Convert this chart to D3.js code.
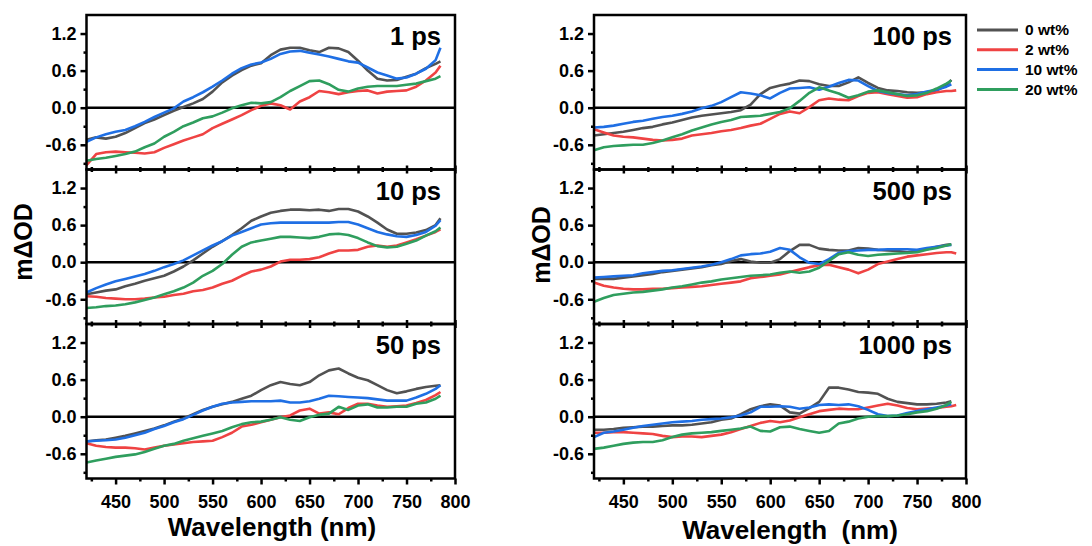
<!DOCTYPE html>
<html>
<head>
<meta charset="utf-8">
<script src="https://cdn.jsdelivr.net/npm/d3@7"></script>
<style>
  body { margin: 0; background: #fff; }
  text { font-family: Arial, "Liberation Sans", sans-serif; font-weight: bold; fill: #000; }
</style>
</head>
<body>
<script>
var svgWidth = 1092;
var svgHeight = 546;

// wavelength grid (nm) shared by every curve; null = no data there
var wavelengths = [420, 430, 440, 450, 460, 470, 480, 490, 500, 510, 520, 530, 540, 550, 560, 570, 580, 590, 600,
  610, 620, 630, 640, 650, 660, 670, 680, 690, 700, 710, 720, 730, 740, 750, 760, 770, 780, 785, 790];

var seriesNames = ["0 wt%", "2 wt%", "10 wt%", "20 wt%"];
var seriesColors = ["#525252", "#ef4343", "#1f6fe4", "#2f9e5e"];
var panelLabels = ["1 ps", "10 ps", "50 ps", "100 ps", "500 ps", "1000 ps"];
var xTicks = [450, 500, 550, 600, 650, 700, 750, 800];
var xMinorTicks = [425, 475, 525, 575, 625, 675, 725, 775];
var yTicks = [-0.6, 0.0, 0.6, 1.2];
var yMinorTicks = [-0.9, -0.3, 0.3, 0.9];

// 1 ps
var ps1_0 = [-0.52,-0.48,-0.50,-0.47,-0.41,-0.33,-0.25,-0.19,-0.12,-0.05,0.01,0.07,0.14,0.26,0.41,0.52,0.61,0.68,0.72,0.85,0.94,0.97,0.97,0.93,0.90,0.97,0.96,0.90,0.76,0.60,0.47,0.44,0.45,0.50,0.55,0.64,0.71,0.75,null];
var ps1_2 = [-0.93,-0.75,-0.72,-0.71,-0.72,-0.73,-0.74,-0.72,-0.65,-0.59,-0.53,-0.48,-0.43,-0.33,-0.26,-0.19,-0.12,-0.04,0.03,0.07,0.04,-0.03,0.10,0.17,0.27,0.25,0.22,0.25,0.27,0.28,0.23,0.26,0.27,0.28,0.34,0.44,0.57,0.68,null];
var ps1_10 = [-0.55,-0.48,-0.43,-0.39,-0.36,-0.30,-0.23,-0.15,-0.08,-0.01,0.10,0.17,0.25,0.34,0.44,0.55,0.64,0.70,0.73,0.79,0.87,0.91,0.92,0.89,0.86,0.83,0.79,0.75,0.73,0.65,0.57,0.52,0.47,0.49,0.55,0.63,0.77,0.97,null];
var ps1_20 = [-0.86,-0.83,-0.81,-0.78,-0.75,-0.71,-0.64,-0.58,-0.47,-0.39,-0.30,-0.24,-0.17,-0.14,-0.08,-0.01,0.04,0.08,0.07,0.09,0.17,0.27,0.35,0.43,0.44,0.38,0.29,0.26,0.31,0.34,0.35,0.35,0.35,0.37,0.39,0.43,0.47,0.51,null];

// 10 ps
var ps10_0 = [-0.52,-0.49,-0.46,-0.44,-0.39,-0.35,-0.30,-0.26,-0.22,-0.15,-0.07,0.03,0.14,0.25,0.34,0.44,0.55,0.67,0.74,0.80,0.83,0.85,0.85,0.84,0.85,0.83,0.86,0.86,0.82,0.74,0.64,0.53,0.46,0.46,0.48,0.52,0.60,0.71,null];
var ps10_2 = [-0.55,-0.56,-0.58,-0.59,-0.60,-0.60,-0.59,-0.57,-0.56,-0.53,-0.51,-0.47,-0.45,-0.41,-0.35,-0.30,-0.22,-0.15,-0.12,-0.07,0.01,0.04,0.04,0.05,0.08,0.14,0.19,0.19,0.20,0.25,0.27,0.25,0.27,0.32,0.37,0.43,0.49,0.53,null];
var ps10_10 = [-0.49,-0.42,-0.36,-0.31,-0.27,-0.23,-0.19,-0.14,-0.08,-0.03,0.03,0.11,0.19,0.27,0.34,0.43,0.49,0.55,0.61,0.63,0.64,0.64,0.64,0.64,0.64,0.64,0.65,0.65,0.61,0.55,0.49,0.45,0.42,0.41,0.44,0.49,0.59,0.68,null];
var ps10_20 = [-0.74,-0.73,-0.71,-0.70,-0.68,-0.65,-0.61,-0.57,-0.52,-0.47,-0.41,-0.33,-0.22,-0.14,-0.03,0.12,0.25,0.32,0.35,0.38,0.41,0.41,0.40,0.39,0.41,0.45,0.46,0.44,0.39,0.32,0.26,0.24,0.25,0.30,0.35,0.43,0.50,0.56,null];

// 50 ps
var ps50_0 = [-0.40,-0.38,-0.37,-0.34,-0.31,-0.27,-0.23,-0.19,-0.14,-0.08,-0.03,0.04,0.11,0.16,0.20,0.24,0.29,0.34,0.43,0.51,0.56,0.53,0.51,0.56,0.67,0.75,0.78,0.70,0.63,0.59,0.51,0.43,0.38,0.41,0.45,0.48,0.50,0.51,null];
var ps50_2 = [-0.43,-0.47,-0.49,-0.50,-0.50,-0.51,-0.53,-0.50,-0.47,-0.45,-0.43,-0.41,-0.40,-0.39,-0.33,-0.26,-0.16,-0.13,-0.09,-0.05,-0.01,0.02,0.10,0.13,0.05,0.07,0.04,0.14,0.21,0.21,0.18,0.16,0.17,0.18,0.22,0.27,0.35,0.40,null];
var ps50_10 = [-0.40,-0.39,-0.38,-0.37,-0.34,-0.30,-0.26,-0.20,-0.15,-0.09,-0.04,0.03,0.10,0.16,0.21,0.23,0.24,0.25,0.25,0.25,0.26,0.23,0.23,0.25,0.29,0.34,0.33,0.32,0.31,0.30,0.28,0.26,0.26,0.26,0.31,0.37,0.45,0.51,null];
var ps50_20 = [-0.74,-0.71,-0.68,-0.65,-0.63,-0.61,-0.57,-0.52,-0.47,-0.44,-0.39,-0.35,-0.31,-0.27,-0.23,-0.17,-0.12,-0.09,-0.08,-0.05,-0.01,-0.05,-0.07,-0.01,0.03,0.05,0.16,0.11,0.18,0.20,0.15,0.15,0.16,0.16,0.21,0.23,0.29,0.34,null];

// 100 ps
var ps100_0 = [-0.45,-0.43,-0.41,-0.39,-0.36,-0.33,-0.31,-0.27,-0.24,-0.20,-0.16,-0.13,-0.11,-0.09,-0.07,-0.04,0.05,0.22,0.32,0.36,0.39,0.44,0.43,0.38,0.35,0.35,0.41,0.49,0.40,0.32,0.28,0.27,0.25,0.24,0.25,0.28,0.36,0.45,null];
var ps100_2 = [-0.35,-0.40,-0.45,-0.47,-0.48,-0.50,-0.52,-0.53,-0.52,-0.50,-0.45,-0.43,-0.41,-0.38,-0.36,-0.33,-0.29,-0.26,-0.18,-0.10,-0.06,-0.09,0.01,0.12,0.15,0.13,0.12,0.19,0.24,0.25,0.22,0.19,0.16,0.17,0.22,0.25,0.27,0.27,0.28];
var ps100_10 = [-0.32,-0.31,-0.29,-0.26,-0.23,-0.21,-0.18,-0.15,-0.13,-0.10,-0.06,-0.01,0.03,0.09,0.17,0.25,0.23,0.20,0.15,0.24,0.31,0.32,0.33,0.29,0.34,0.40,0.45,0.44,0.35,0.27,0.24,0.22,0.20,0.22,0.26,0.29,0.34,0.38,null];
var ps100_20 = [-0.69,-0.64,-0.62,-0.61,-0.60,-0.60,-0.57,-0.53,-0.48,-0.43,-0.37,-0.32,-0.27,-0.23,-0.20,-0.15,-0.14,-0.13,-0.10,-0.07,-0.01,0.11,0.24,0.33,0.28,0.23,0.16,0.20,0.26,0.28,0.25,0.22,0.19,0.20,0.24,0.31,0.39,0.44,null];

// 500 ps
var ps500_0 = [-0.27,-0.27,-0.27,-0.25,-0.23,-0.21,-0.19,-0.16,-0.14,-0.12,-0.10,-0.08,-0.05,-0.03,0.02,0.05,0.01,-0.01,-0.01,0.05,0.18,0.28,0.28,0.22,0.20,0.19,0.19,0.23,0.22,0.20,0.19,0.18,0.16,0.18,0.21,0.25,0.28,0.29,null];
var ps500_2 = [-0.33,-0.38,-0.41,-0.43,-0.44,-0.44,-0.43,-0.43,-0.42,-0.41,-0.40,-0.39,-0.37,-0.35,-0.33,-0.31,-0.26,-0.24,-0.22,-0.20,-0.16,-0.12,-0.08,-0.05,-0.04,-0.08,-0.12,-0.18,-0.12,-0.03,0.01,0.05,0.09,0.11,0.13,0.15,0.16,0.16,0.14];
var ps500_10 = [-0.25,-0.24,-0.23,-0.22,-0.21,-0.18,-0.16,-0.14,-0.13,-0.11,-0.09,-0.07,-0.04,0.00,0.05,0.11,0.13,0.14,0.17,0.23,0.20,0.08,-0.01,-0.03,0.05,0.15,0.18,0.19,0.20,0.20,0.21,0.21,0.21,0.20,0.23,0.25,0.27,0.28,null];
var ps500_20 = [-0.64,-0.58,-0.53,-0.51,-0.49,-0.48,-0.46,-0.44,-0.41,-0.39,-0.36,-0.33,-0.31,-0.28,-0.26,-0.24,-0.22,-0.21,-0.20,-0.17,-0.15,-0.17,-0.15,-0.09,0.02,0.13,0.16,0.12,0.10,0.12,0.13,0.14,0.15,0.16,0.20,0.23,0.27,0.29,null];

// 1000 ps
var ps1000_0 = [-0.21,-0.21,-0.20,-0.18,-0.17,-0.16,-0.16,-0.15,-0.14,-0.14,-0.13,-0.11,-0.09,-0.05,-0.03,0.04,0.12,0.17,0.20,0.18,0.07,0.05,0.14,0.24,0.47,0.47,0.44,0.40,0.39,0.37,0.29,0.24,0.22,0.20,0.20,0.21,0.23,0.25,null];
var ps1000_2 = [-0.26,-0.26,-0.25,-0.25,-0.26,-0.27,-0.28,-0.31,-0.33,-0.32,-0.32,-0.33,-0.31,-0.29,-0.25,-0.20,-0.15,-0.10,-0.07,-0.09,-0.06,-0.01,0.04,0.09,0.11,0.13,0.12,0.12,0.15,0.18,0.21,0.18,0.14,0.12,0.13,0.14,0.16,0.17,0.19];
var ps1000_10 = [-0.33,-0.26,-0.24,-0.21,-0.18,-0.15,-0.13,-0.11,-0.09,-0.08,-0.07,-0.05,-0.04,-0.03,-0.01,0.02,0.07,0.16,0.16,0.17,0.16,0.13,0.15,0.19,0.20,0.19,0.20,0.17,0.11,0.04,0.01,0.02,0.06,0.09,0.12,0.15,0.18,0.20,null];
var ps1000_20 = [-0.52,-0.50,-0.47,-0.44,-0.42,-0.41,-0.41,-0.38,-0.33,-0.29,-0.27,-0.26,-0.25,-0.23,-0.21,-0.19,-0.16,-0.23,-0.24,-0.17,-0.16,-0.20,-0.23,-0.26,-0.23,-0.11,-0.08,-0.03,0.00,0.01,0.01,0.02,0.04,0.07,0.09,0.13,0.19,0.24,null];

var panels = [
  { label: panelLabels[0], col: 0, row: 0, series: [ps1_0, ps1_2, ps1_10, ps1_20] },
  { label: panelLabels[1], col: 0, row: 1, series: [ps10_0, ps10_2, ps10_10, ps10_20] },
  { label: panelLabels[2], col: 0, row: 2, series: [ps50_0, ps50_2, ps50_10, ps50_20] },
  { label: panelLabels[3], col: 1, row: 0, series: [ps100_0, ps100_2, ps100_10, ps100_20] },
  { label: panelLabels[4], col: 1, row: 1, series: [ps500_0, ps500_2, ps500_10, ps500_20] },
  { label: panelLabels[5], col: 1, row: 2, series: [ps1000_0, ps1000_2, ps1000_10, ps1000_20] }
];

// panel geometry
var columns = [{ left: 86.5, right: 455 }, { left: 594, right: 966 }];
var rowTops = [15, 169.5, 324];
var panelHeight = 154.5;
var frameWidth = 2.5;

var svg = d3.select("body")
  .append("svg")
  .attr("width", svgWidth)
  .attr("height", svgHeight);

function styleAxis(g) {
  g.select(".domain").remove();
  g.selectAll(".tick line").attr("stroke", "#000").attr("stroke-width", frameWidth);
  g.selectAll(".tick text").style("font-size", "18px");
}

panels.forEach(function(p) {
  var c = columns[p.col];
  var top = rowTops[p.row];
  var bottom = top + panelHeight;
  var isBottomRow = p.row == 2;

  var x = d3.scaleLinear().domain([420, 800]).range([c.left, c.right]);
  var y = d3.scaleLinear().domain([-1, 1.5]).range([bottom, top]);

  var g = svg.append("g");

  // zero line
  g.append("line")
    .attr("x1", x(420)).attr("x2", x(800))
    .attr("y1", y(0)).attr("y2", y(0))
    .attr("stroke", "#000")
    .attr("stroke-width", 2.5);

  var line = d3.line()
    .defined(d => d[1] != null)
    .x(d => x(d[0]))
    .y(d => y(d[1]));

  p.series.forEach(function(vals, i) {
    g.append("path")
      .datum(wavelengths.map((w, j) => [w, vals[j]]))
      .attr("d", line)
      .attr("fill", "none")
      .attr("stroke", seriesColors[i])
      .attr("stroke-width", 2.6)
      .attr("stroke-linejoin", "round");
  });

  // frame
  g.append("rect")
    .attr("x", c.left).attr("y", top)
    .attr("width", c.right - c.left).attr("height", panelHeight)
    .attr("fill", "none")
    .attr("stroke", "#000")
    .attr("stroke-width", frameWidth);

  // bottom ticks (labels only on the bottom row)
  g.append("g")
    .attr("transform", `translate(0, ${bottom})`)
    .call(d3.axisBottom(x).tickValues(xTicks).tickSize(isBottomRow ? 6 : 4).tickPadding(isBottomRow ? 11 : 0)
      .tickFormat(isBottomRow ? d3.format("d") : ""))
    .call(styleAxis);
  g.append("g")
    .attr("transform", `translate(0, ${bottom})`)
    .call(d3.axisBottom(x).tickValues(xMinorTicks).tickSize(isBottomRow ? 3 : 2.5).tickFormat(""))
    .call(styleAxis);

  // ticks poking up from the shared border
  if (p.row > 0) {
    g.append("g")
      .attr("transform", `translate(0, ${top})`)
      .call(d3.axisTop(x).tickValues(xTicks).tickSize(4).tickFormat(""))
      .call(styleAxis);
    g.append("g")
      .attr("transform", `translate(0, ${top})`)
      .call(d3.axisTop(x).tickValues(xMinorTicks).tickSize(2.5).tickFormat(""))
      .call(styleAxis);
  }

  // left axis
  g.append("g")
    .attr("transform", `translate(${c.left}, 0)`)
    .call(d3.axisLeft(y).tickValues(yTicks).tickSize(6).tickPadding(4).tickFormat(d => d.toFixed(1)))
    .call(styleAxis);
  g.append("g")
    .attr("transform", `translate(${c.left}, 0)`)
    .call(d3.axisLeft(y).tickValues(yMinorTicks).tickSize(3).tickFormat(""))
    .call(styleAxis);

  // delay label
  g.append("text")
    .attr("x", c.right - 14)
    .attr("y", top + 30)
    .attr("text-anchor", "end")
    .style("font-size", "25.5px")
    .text(p.label);
});

// y titles
[[32, 242], [550, 245]].forEach(function(pos) {
  svg.append("text")
    .attr("transform", `translate(${pos[0]}, ${pos[1]}) rotate(-90)`)
    .attr("text-anchor", "middle")
    .style("font-size", "25px")
    .text("mΔOD");
});

// x titles
svg.append("text")
  .attr("x", 272).attr("y", 536)
  .attr("text-anchor", "middle")
  .style("font-size", "26px")
  .text("Wavelength (nm)");
svg.append("text")
  .attr("x", 790).attr("y", 538.5)
  .attr("text-anchor", "middle")
  .style("font-size", "26px")
  .text("Wavelength\u00a0 (nm)");

// legend
var legend = svg.append("g").attr("transform", "translate(977, 30)");
seriesNames.forEach(function(name, i) {
  var row = legend.append("g").attr("transform", `translate(0, ${i * 19.8})`);
  row.append("line")
    .attr("x1", 0).attr("x2", 41)
    .attr("y1", 0).attr("y2", 0)
    .attr("stroke", seriesColors[i])
    .attr("stroke-width", 3);
  row.append("text")
    .attr("x", 48)
    .attr("dy", "0.35em")
    .style("font-size", "15.5px")
    .text(name);
});
</script>
</body>
</html>
